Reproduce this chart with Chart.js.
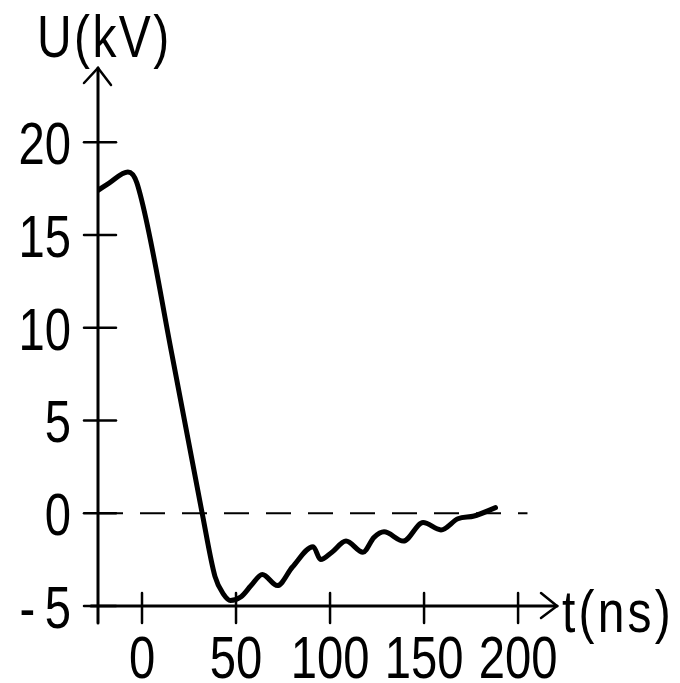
<!DOCTYPE html>
<html>
<head>
<meta charset="utf-8">
<script src="https://cdn.jsdelivr.net/npm/chart.js@4.4.0/dist/chart.umd.min.js"></script>
<style>
  body { margin: 0; background: #fff; }
  canvas { display: block; }
</style>
</head>
<body>
<canvas id="grafico" width="680" height="683"></canvas>
<script>
// Dados: tempo em ns, tensão em kV
const tempo = [-23.4, -17.5, -7.5, -2.7, 16.5, 32, 38.8, 43.6, 47, 52.7, 58, 64, 72, 80, 91, 95, 101, 108.5, 117.5, 123.4, 128.7, 139, 149.5, 159, 168, 176.6, 188];
const tensao = [17.4, 17.8, 18.4, 17.8, 8.25, 0, -3.4, -4.4, -4.7, -4.5, -3.9, -3.3, -3.9, -2.9, -1.8, -2.5, -2.1, -1.5, -2.1, -1.3, -1.0, -1.5, -0.5, -0.9, -0.3, -0.15, 0.3];

// Linha tracejada do zero
const zeroT = [-23.4, 205];
const zeroU = [0, 0];

// Marcas dos eixos
const xTicks = [0, 50, 100, 150, 200];
const yTicks = [-5, 0, 5, 10, 15, 20];
const yTitle = 'U(kV)';
const xTitle = 't(ns)';

const fonte = "'Liberation Sans', Arial, sans-serif";
const estreito = 0.8; // letras altas e estreitas como na figura

// Escreve um texto comprimido na horizontal
function texto(c, str, x, y, align, espaco) {
    c.save();
    c.translate(x, y);
    c.scale(estreito, 1);
    c.letterSpacing = (espaco || 0) + 'px';
    c.textAlign = align;
    c.textBaseline = 'alphabetic';
    c.fillText(str, 0, 0);
    c.restore();
}

// Desenha os eixos à mão, com setas e marcas cruzadas
const eixosPlugin = {
    id: 'eixos',
    beforeDatasetsDraw(chart) {
        const c = chart.ctx;
        const xs = chart.scales.x;
        const ys = chart.scales.y;
        const x0 = xs.left;
        const y0 = ys.bottom;
        c.save();
        c.strokeStyle = '#000';
        c.lineCap = 'round';
        c.lineWidth = 3;

        // eixo y
        c.beginPath();
        c.moveTo(x0, ys.top);
        c.lineTo(x0, y0 + 17);
        c.stroke();
        // seta y
        c.lineWidth = 2.5;
        c.beginPath();
        c.moveTo(x0 - 14, ys.top + 15);
        c.lineTo(x0, ys.top);
        c.lineTo(x0 + 13, ys.top + 17);
        c.stroke();

        // eixo x
        c.lineWidth = 3;
        c.beginPath();
        c.moveTo(x0 - 7, y0);
        c.lineTo(xs.right, y0);
        c.stroke();
        // seta x
        c.lineWidth = 2.5;
        c.beginPath();
        c.moveTo(xs.right - 16, y0 - 13);
        c.lineTo(xs.right, y0);
        c.lineTo(xs.right - 16, y0 + 12);
        c.stroke();

        // marcas e rótulos
        c.fillStyle = '#000';
        c.font = `59px ${fonte}`;
        c.lineWidth = 2.5;
        yTicks.forEach(v => {
            const py = ys.getPixelForValue(v);
            c.beginPath();
            c.moveTo(x0 - 14, py);
            c.lineTo(x0 + 18, py);
            c.stroke();
            // o "-5" tem um espaço entre o sinal e o número
            const esp = v < 0 ? 12 : 0;
            texto(c, String(v), 71 + esp * estreito, py + 22, 'right', esp);
        });
        xTicks.forEach(v => {
            const px = xs.getPixelForValue(v);
            c.beginPath();
            c.moveTo(px, y0 - 13);
            c.lineTo(px, y0 + 17);
            c.stroke();
            texto(c, String(v), px, 678, 'center');
        });

        // títulos dos eixos
        c.font = `60px ${fonte}`;
        texto(c, yTitle, 37, 57, 'left', 3);
        texto(c, xTitle, 562, 632, 'left', 4);
        c.restore();
    }
};

const ctx = document.getElementById('grafico');
const grafico = new Chart(ctx, {
    type: 'line',
    data: {
        datasets: [
            {
                data: tempo.map((t, i) => ({ x: t, y: tensao[i] })),
                borderColor: '#000',
                borderWidth: 5,
                pointRadius: 0,
                cubicInterpolationMode: 'monotone',
                borderCapStyle: 'round',
                borderJoinStyle: 'round'
            },
            {
                data: zeroT.map((t, i) => ({ x: t, y: zeroU[i] })),
                borderColor: '#000',
                borderWidth: 2,
                borderDash: [25, 17],
                pointRadius: 0
            }
        ]
    },
    options: {
        responsive: false,
        animation: false,
        layout: { padding: { top: 68, right: 123, left: 0, bottom: 0 } },
        plugins: {
            legend: { display: false },
            tooltip: { enabled: false }
        },
        scales: {
            x: {
                type: 'linear',
                min: -23.4,
                max: 220.7,
                afterBuildTicks: s => { s.ticks = xTicks.map(v => ({ value: v })); },
                afterFit: s => { s.height = 77; },
                grid: { display: false, drawTicks: false },
                border: { display: false },
                ticks: { display: false }
            },
            y: {
                type: 'linear',
                min: -5,
                max: 24,
                afterBuildTicks: s => { s.ticks = yTicks.map(v => ({ value: v })); },
                afterFit: s => { s.width = 98; },
                grid: { display: false, drawTicks: false },
                border: { display: false },
                ticks: { display: false }
            }
        }
    },
    plugins: [eixosPlugin]
});
</script>
</body>
</html>
